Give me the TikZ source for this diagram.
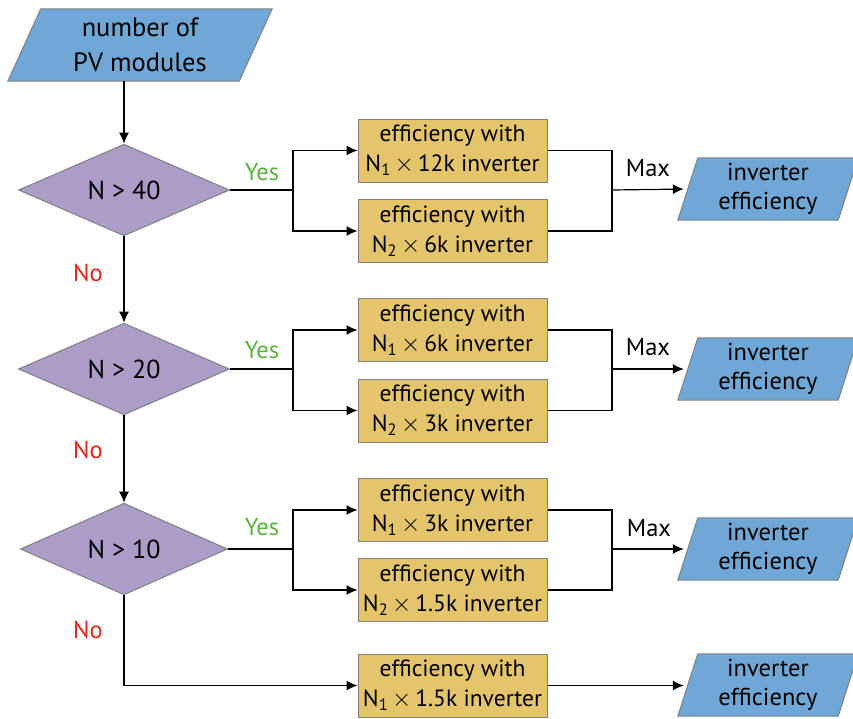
\documentclass[tikz,border=0pt]{standalone}
\usepackage{fontspec}
\setmainfont{PT Sans}
\usetikzlibrary{shapes.geometric,arrows.meta,calc,backgrounds}
\definecolor{pvblue}{HTML}{6FA8D7}
\definecolor{dpurple}{HTML}{AB9CC8}
\definecolor{bgold}{HTML}{E4C56B}
\definecolor{yesgreen}{HTML}{58B33A}
\definecolor{nored}{HTML}{E2231A}
\definecolor{edgegray}{HTML}{808080}
\newcommand{\drawpara}[2]{%
  \path[draw=edgegray,line width=1pt,fill=pvblue]
    ($(#1.north west)+(#2,0)$) -- ($(#1.north east)+(#2,0)$) --
    ($(#1.south east)-(#2,0)$) -- ($(#1.south west)-(#2,0)$) -- cycle;}
\newcommand{\tms}{\,$\times$\,}
\tikzset{
  every node/.style={font=\fontsize{24.5}{29}\selectfont},
  effbox/.style={rectangle, draw=edgegray, line width=1pt, fill=bgold,
    minimum width=189pt, minimum height=63pt, inner sep=0pt, align=center,
    font=\fontsize{23.5}{30}\selectfont},
  decide/.style={diamond, draw=edgegray, line width=1pt, fill=dpurple,
    minimum width=211pt, minimum height=84pt, inner sep=0pt,
    font=\fontsize{26}{30}\selectfont},
  iobox/.style={rectangle, minimum height=62pt, minimum width=160pt, inner sep=0pt, align=center},
  conn/.style={line width=1.2pt, black},
  arr/.style={conn, -{Latex[length=11pt,width=10pt]}},
  yeslab/.style={text=yesgreen},
  nolab/.style={text=nored},
  maxlab/.style={text=black},
}
\begin{document}
\begin{tikzpicture}[x=1pt,y=-1pt]
\useasboundingbox (0,0) rectangle (853,718);

% input
\node[iobox, minimum width=231pt, minimum height=72pt, font=\fontsize{26.5}{35}\selectfont] (in) at (140,45) {number of\\PV modules};

% decisions
\node[decide] (d1) at (124,190) {N > 40};
\node[decide] (d2) at (124,369) {N > 20};
\node[decide, minimum width=207pt] (d3) at (124,549) {N > 10};

% efficiency boxes
\node[effbox] (b11) at (452.5,150.5) {efficiency with\\N\textsubscript{1}\tms 12k inverter};
\node[effbox] (b12) at (452.5,231) {efficiency with\\N\textsubscript{2}\tms 6k inverter};
\node[effbox] (b21) at (452.5,330) {efficiency with\\N\textsubscript{1}\tms 6k inverter};
\node[effbox] (b22) at (452.5,410.5) {efficiency with\\N\textsubscript{2}\tms 3k inverter};
\node[effbox] (b31) at (452.5,510) {efficiency with\\N\textsubscript{1}\tms 3k inverter};
\node[effbox] (b32) at (452.5,590) {efficiency with\\N\textsubscript{2}\tms 1.5k inverter};
\node[effbox] (b4) at (452.5,685.5) {efficiency with\\N\textsubscript{1}\tms 1.5k inverter};

% outputs
\node[iobox] (o1) at (768,189) {inverter\\efficiency};
\node[iobox] (o2) at (768,369) {inverter\\efficiency};
\node[iobox] (o3) at (768,549) {inverter\\efficiency};
\node[iobox] (o4) at (768,685) {inverter\\efficiency};

\begin{pgfonlayer}{background}
  \drawpara{in}{16.5}
  \drawpara{o1}{10}
  \drawpara{o2}{10}
  \drawpara{o3}{10}
  \drawpara{o4}{10}
\end{pgfonlayer}

% split / merge points
\coordinate (s1) at (293,190);
\coordinate (s2) at (293,369);
\coordinate (s3) at (293,549);
\coordinate (m1) at (612,190);
\coordinate (m2) at (612,369);
\coordinate (m3) at (612,549);

% vertical chain
\draw[arr] (in.south -| d1.north) -- (d1.north);
\draw[arr] (d1.south) -- (d2.north);
\draw[arr] (d2.south) -- (d3.north);
\draw[arr] (d3.south) |- (b4.west);

% branches
\draw[conn] (d1.east) -- (s1);
\draw[arr] (s1) |- (b11.west);
\draw[arr] (s1) |- (b12.west);
\draw[conn] (d2.east) -- (s2);
\draw[arr] (s2) |- (b21.west);
\draw[arr] (s2) |- (b22.west);
\draw[conn] (d3.east) -- (s3);
\draw[arr] (s3) |- (b31.west);
\draw[arr] (s3) |- (b32.west);

% merges
\draw[conn] (b11.east) -| (m1);
\draw[conn] (b12.east) -| (m1);
\draw[arr, shorten >=4pt] (m1) -- (o1.west);
\draw[conn] (b21.east) -| (m2);
\draw[conn] (b22.east) -| (m2);
\draw[arr, shorten >=4pt] (m2) -- (o2.west);
\draw[conn] (b31.east) -| (m3);
\draw[conn] (b32.east) -| (m3);
\draw[arr, shorten >=4pt] (m3) -- (o3.west);
\draw[arr, shorten >=4pt] (b4.east) -- (o4.west |- b4.east);

% labels
\node[yeslab] (y1) at (262,172) {Yes};
\node[yeslab] (y2) at (262,350) {Yes};
\node[yeslab] (y3) at (262,527) {Yes};
\node[nolab] (n1) at (88,273) {No};
\node[nolab] (n2) at (88,450) {No};
\node[nolab] (n3) at (88,630) {No};
\node[maxlab] (x1) at (648,168) {Max};
\node[maxlab] (x2) at (648,347) {Max};
\node[maxlab] (x3) at (649,528) {Max};
\end{tikzpicture}
\end{document}
